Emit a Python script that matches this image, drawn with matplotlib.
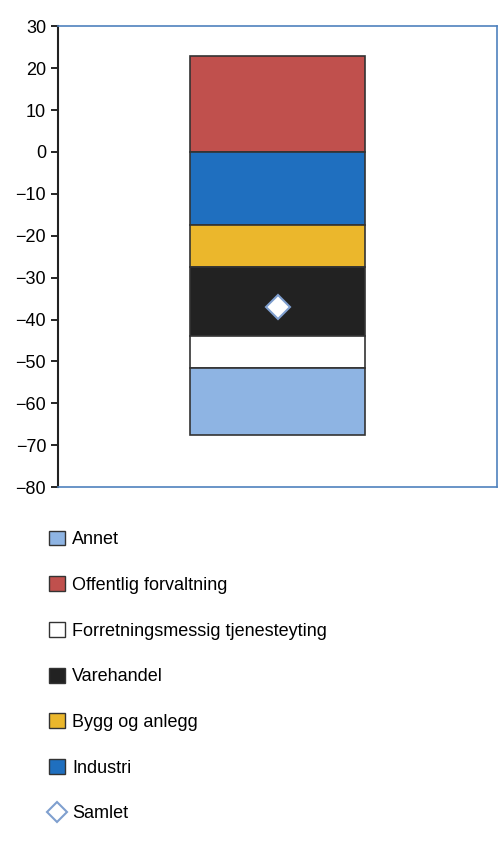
import matplotlib
matplotlib.use("Agg")
import matplotlib.pyplot as plt
from matplotlib.patches import Patch
from matplotlib.lines import Line2D

plt.rcParams["font.family"] = ["Liberation Sans", "DejaVu Sans"]

# stacked components (positive stacked upward from 0, negatives downward)
pos_names = ["Offentlig forvaltning"]
pos_values = [23]
neg_names = ["Industri", "Bygg og anlegg", "Varehandel", "Forretningsmessig tjenesteyting", "Annet"]
neg_values = [-17.5, -10, -16.5, -7.5, -16]
colors = {
    "Annet": "#8eb4e3",
    "Offentlig forvaltning": "#c0504d",
    "Forretningsmessig tjenesteyting": "#ffffff",
    "Varehandel": "#222222",
    "Bygg og anlegg": "#ebb72c",
    "Industri": "#1f6fbf",
}
samlet = -37
legend_order = ["Annet", "Offentlig forvaltning", "Forretningsmessig tjenesteyting",
                "Varehandel", "Bygg og anlegg", "Industri"]

fig = plt.figure(figsize=(5, 8.5), dpi=100)
ax = fig.add_axes([0.116, 0.427, 0.878, 0.542])

x = 0
w = 0.4
base = 0
for n, v in zip(pos_names, pos_values):
    ax.bar(x, v, w, bottom=base, color=colors[n], edgecolor="#333333", linewidth=1.2)
    base += v
base = 0
for n, v in zip(neg_names, neg_values):
    ax.bar(x, v, w, bottom=base, color=colors[n], edgecolor="#333333", linewidth=1.2)
    base += v
ax.plot([x], [samlet], marker="D", markersize=12, color="white",
        markeredgecolor="#7f9fcf", markeredgewidth=1.5, linestyle="none")

ax.set_xlim(-0.5, 0.5)
ax.set_ylim(-80, 30)
ax.set_yticks(range(-80, 31, 10))
ax.set_xticks([])
ax.tick_params(axis="y", direction="out", length=5, width=1.2, labelsize=13)
ax.spines["left"].set_color("#222222")
ax.spines["left"].set_linewidth(1.5)
for s in ["top", "right", "bottom"]:
    ax.spines[s].set_color("#4f81bd")
    ax.spines[s].set_linewidth(1.2)

handles = [Patch(facecolor=colors[n], edgecolor="#333333", linewidth=1.0) for n in legend_order]
handles.append(Line2D([], [], marker="D", color="white", markeredgecolor="#7f9fcf",
                      markeredgewidth=1.5, markersize=10, linestyle="none"))
labels = legend_order + ["Samlet"]
fig.legend(handles, labels, loc="upper left", bbox_to_anchor=(0.065, 0.395), frameon=False,
           fontsize=13, labelspacing=1.55, handlelength=0.9, handleheight=0.9, handletextpad=0.4)

fig.savefig("out.png", dpi=100)
